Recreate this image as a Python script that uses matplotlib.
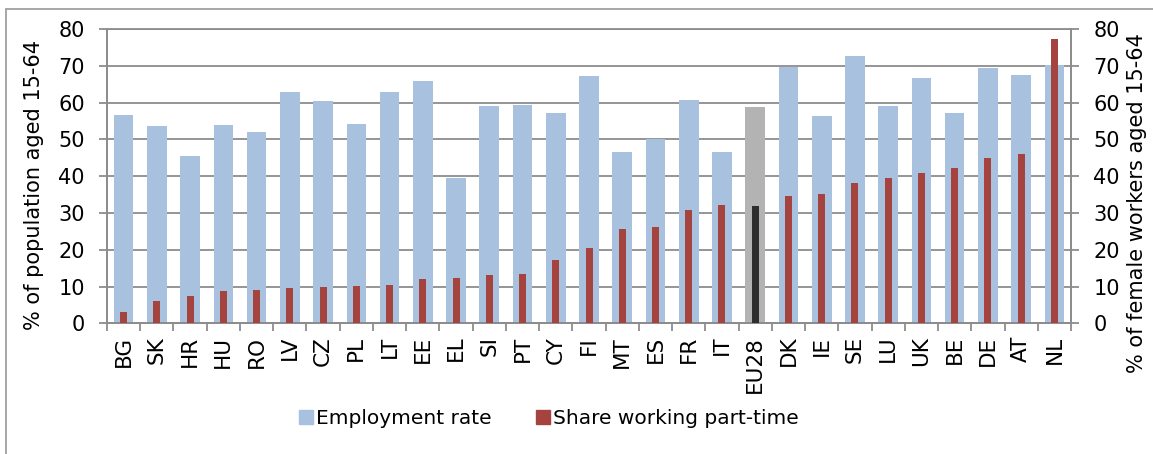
import matplotlib.pyplot as plt
from matplotlib.patches import Rectangle
import numpy as np

# --- DATA ---
countries = ["BG", "SK", "HR", "HU", "RO", "LV", "CZ", "PL", "LT", "EE",
             "EL", "SI", "PT", "CY", "FI", "MT", "ES", "FR", "IT", "EU28",
             "DK", "IE", "SE", "LU", "UK", "BE", "DE", "AT", "NL"]
employment_rate = [56.7, 53.7, 45.6, 54.0, 51.9, 63.0, 60.3, 54.3, 63.0, 66.0,
                   39.5, 59.0, 59.4, 57.2, 67.2, 46.7, 50.1, 60.7, 46.7, 58.9,
                   69.6, 56.4, 72.6, 59.0, 66.6, 57.2, 69.3, 67.6, 70.2]
part_time_share = [3.0, 6.0, 7.5, 8.7, 9.1, 9.6, 9.9, 10.2, 10.5, 12.0,
                   12.3, 13.1, 13.5, 17.1, 20.4, 25.5, 26.1, 30.9, 32.1, 32.0,
                   34.5, 35.1, 38.2, 39.6, 40.8, 42.3, 45.0, 46.1, 77.2]

# --- STYLE ---
BLUE = "#a7c1df"
RED = "#a5443e"
GREY = "#b3b3b3"
DARK = "#2e2e2e"
LINE = "#8c8c8c"
plt.rcParams['font.family'] = ['DejaVu Sans']

x = np.arange(len(countries))
is_avg = np.array([c == "EU28" for c in countries])
emp_colors = [GREY if a else BLUE for a in is_avg]
pt_colors = [DARK if a else RED for a in is_avg]

fig = plt.figure(figsize=(11.53, 4.54), dpi=100)
ax = fig.add_axes([0.0928, 0.2879, 0.8361, 0.6482])
ax2 = ax.twinx()

ax.bar(x, employment_rate, width=0.59, color=emp_colors, zorder=2)
ax2.bar(x, part_time_share, width=0.21, color=pt_colors, zorder=3)

for a in (ax, ax2):
    a.set_ylim(0, 80)
    a.set_yticks(range(0, 81, 10))
    a.set_xlim(-0.5, len(countries) - 0.5)
    for s in a.spines.values():
        s.set_color(LINE)
        s.set_linewidth(1.3)
    a.spines['top'].set_visible(False)
    a.tick_params(axis='y', labelsize=15, length=6, width=1.3, color=LINE, pad=10)

ax.set_axisbelow(True)
ax.yaxis.grid(True, color=LINE, linewidth=1.3, zorder=0)
ax.axhline(80, color=LINE, linewidth=1.3, zorder=1, clip_on=False)

# category boundaries get the tick marks, names sit in between
ax.set_xticks(x)
ax.set_xticklabels(countries, rotation=90, fontsize=15.5)
ax.tick_params(axis='x', which='major', length=0, pad=9)
ax.set_xticks(np.arange(-0.5, len(countries)), minor=True)
ax.tick_params(axis='x', which='minor', length=6, width=1.3, color=LINE)

ax.set_ylabel("% of population aged 15-64", fontsize=15, va='center', ha='center')
ax.yaxis.set_label_coords(-0.0757, 0.47)
ax2.set_ylabel("% of female workers aged 15-64", fontsize=15, va='center', ha='center')
ax2.yaxis.set_label_coords(1.0685, 0.41)

# legend with square swatches
h1 = Rectangle((0, 0), 1, 1, color=BLUE)
h2 = Rectangle((0, 0), 1, 1, color=RED)
fig.legend([h1, h2], ["Employment rate", "Share working part-time"],
           loc='center', bbox_to_anchor=(0.4757, 0.079), ncol=2, frameon=False,
           fontsize=14.5, handlelength=0.7, handleheight=0.7, handletextpad=0.15,
           columnspacing=2.2)

# outer chart frame
fig.patches.append(Rectangle((6 / 1153, -0.1), 1.2, 1.1 - 9 / 454,
                             transform=fig.transFigure, fill=False,
                             edgecolor="#a0a0a0", linewidth=1.3))

fig.savefig("out.png", dpi=100)
